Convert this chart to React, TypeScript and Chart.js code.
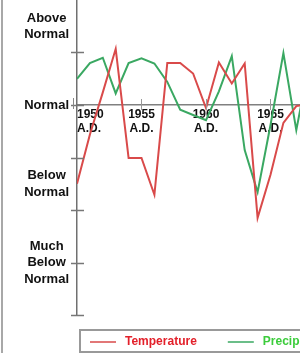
import React, { useEffect, useRef } from 'react';
import { Chart, registerables } from 'chart.js';

Chart.register(...registerables);

// ---- data ----
const years = [1950, 1951, 1952, 1953, 1954, 1955, 1956, 1957, 1958, 1959, 1960, 1961, 1962, 1963, 1964, 1965, 1966, 1967, 1968];
const temperature = [-1.5, -0.56, 0.24, 1.07, -1.01, -1.01, -1.71, 0.8, 0.8, 0.6, -0.06, 0.81, 0.41, 0.79, -2.15, -1.33, -0.34, -0.02, 0.02];
const precipitation = [0.5, 0.8, 0.9, 0.22, 0.8, 0.89, 0.79, 0.44, -0.09, -0.19, -0.29, 0.26, 0.93, -0.86, -1.66, -0.38, 0.99, -0.48, 0.8];
const seriesLabels = ['Temperature', 'Precipitation'];
const xTickYears = [1950, 1955, 1960, 1965, 1970];
const xTickSuffix = 'A.D.';
const yLabelValues = [1.5, 0, -1.5, -3];
const yLabelTexts: (string | string[])[] = [['Above', 'Normal'], 'Normal', ['Below', 'Normal'], ['Much', 'Below', 'Normal']];
const yTickMarks = [1, 0, -1, -2, -3, -4];
const yMin = -4;
const yMax = 2;

// ---- layout / style ----
const CANVAS_W = 420;
const CANVAS_H = 353;
const AXIS_W = 77;
const PX_PER_YEAR = 12.9;
const PLOT_BOTTOM = 315;
const lineColors = ['#d94a4a', '#3aa862'];
const legendTextColors = ['#e3202a', '#3ccc3c'];
const FONT = '"Liberation Sans", Arial, sans-serif';

const decorPlugin = {
  id: 'decor',
  afterDraw(chart: any) {
    const { ctx, chartArea } = chart;
    const xs = chart.scales.x;
    const ys = chart.scales.y;
    const left = chartArea.left;
    const y0 = ys.getPixelForValue(0);
    ctx.save();
    // page border on the left
    ctx.fillStyle = '#a8a8a8';
    ctx.fillRect(1, 0, 2, chart.height);

    // y tick marks crossing the axis
    ctx.strokeStyle = '#777';
    ctx.lineWidth = 1.5;
    yTickMarks.forEach((v) => {
      const py = Math.round(ys.getPixelForValue(v)) + 0.5;
      ctx.beginPath();
      ctx.moveTo(left - 6, py);
      ctx.lineTo(left + 7, py);
      ctx.stroke();
    });
    // small cap at the left end of the x axis
    ctx.lineWidth = 1;
    ctx.strokeStyle = '#888';
    ctx.beginPath();
    ctx.moveTo(left - 3.5, y0 - 7);
    ctx.lineTo(left - 3.5, y0 + 4);
    ctx.stroke();
    // x tick marks
    ctx.strokeStyle = '#999';
    xTickYears.slice(1).forEach((yr) => {
      const px = Math.round(xs.getPixelForValue(yr)) + 0.5;
      ctx.beginPath();
      ctx.moveTo(px, y0 - 6);
      ctx.lineTo(px, y0 + 5);
      ctx.stroke();
    });

    // legend box
    const boxTop = chartArea.bottom + 15;
    ctx.strokeStyle = '#999';
    ctx.lineWidth = 2;
    ctx.strokeRect(left + 3, boxTop, chart.width, 22);
    const midY = boxTop + 12;
    let lx = left + 13;
    ctx.font = `bold 12px ${FONT}`;
    ctx.textBaseline = 'middle';
    ctx.textAlign = 'left';
    chart.data.datasets.forEach((ds: any, i: number) => {
      ctx.strokeStyle = ds.borderColor;
      ctx.lineWidth = 1.5;
      ctx.beginPath();
      ctx.moveTo(lx, midY);
      ctx.lineTo(lx + 26, midY);
      ctx.stroke();
      ctx.fillStyle = legendTextColors[i];
      ctx.fillText(ds.label, lx + 35, midY);
      lx += 35 + ctx.measureText(ds.label).width + 31;
    });
    ctx.restore();
  },
};

export default function App() {
  const ref = useRef<HTMLCanvasElement>(null);
  useEffect(() => {
    const chart = new Chart(ref.current as HTMLCanvasElement, {
      type: 'line',
      data: {
        datasets: [
          {
            label: seriesLabels[0],
            data: years.map((yr, i) => ({ x: yr, y: temperature[i] })),
            borderColor: lineColors[0],
            borderWidth: 2,
            pointRadius: 0,
            tension: 0,
            fill: false,
          },
          {
            label: seriesLabels[1],
            data: years.map((yr, i) => ({ x: yr, y: precipitation[i] })),
            borderColor: lineColors[1],
            borderWidth: 2,
            pointRadius: 0,
            tension: 0,
            fill: false,
          },
        ],
      },
      options: {
        animation: false,
        responsive: false,
        maintainAspectRatio: false,
        layout: { padding: { left: 0, right: 0, top: 0, bottom: CANVAS_H - PLOT_BOTTOM } },
        plugins: { legend: { display: false }, tooltip: { enabled: false } },
        scales: {
          x: {
            type: 'linear',
            min: years[0],
            max: years[0] + (CANVAS_W - AXIS_W) / PX_PER_YEAR,
            position: { y: 0 } as any,
            afterBuildTicks: (s: any) => {
              s.ticks = xTickYears.map((v) => ({ value: v }));
            },
            ticks: {
              align: 'inner',
              autoSkip: false,
              maxRotation: 0,
              minRotation: 0,
              padding: 3,
              color: '#111',
              font: { family: FONT, size: 12, weight: 'bold', lineHeight: 1.17 },
              callback: (v: any) => [String(v), xTickSuffix],
            },
            grid: { display: false, drawTicks: false },
            border: { display: true, color: '#808080', width: 1.5 },
          },
          y: {
            type: 'linear',
            min: yMin,
            max: yMax,
            position: 'left',
            afterBuildTicks: (s: any) => {
              s.ticks = yLabelValues.map((v) => ({ value: v }));
            },
            afterFit: (s: any) => {
              s.width = AXIS_W;
              s.paddingTop = 0;
              s.paddingBottom = 0;
            },
            ticks: {
              crossAlign: 'center',
              padding: 8,
              autoSkip: false,
              color: '#111',
              font: { family: FONT, size: 13, weight: 'bold', lineHeight: 1.27 },
              callback: (v: any) => yLabelTexts[yLabelValues.indexOf(v)],
            },
            grid: { display: false, drawTicks: false },
            border: { display: true, color: '#707070', width: 1.5 },
          },
        },
      } as any,
      plugins: [decorPlugin],
    });
    return () => chart.destroy();
  }, []);

  return (
    <div style={{ position: 'absolute', left: 0, top: 0, width: 300, height: 353, overflow: 'hidden', background: '#fff' }}>
      <canvas ref={ref} width={CANVAS_W} height={CANVAS_H} style={{ display: 'block', width: CANVAS_W, height: CANVAS_H }} />
    </div>
  );
}
